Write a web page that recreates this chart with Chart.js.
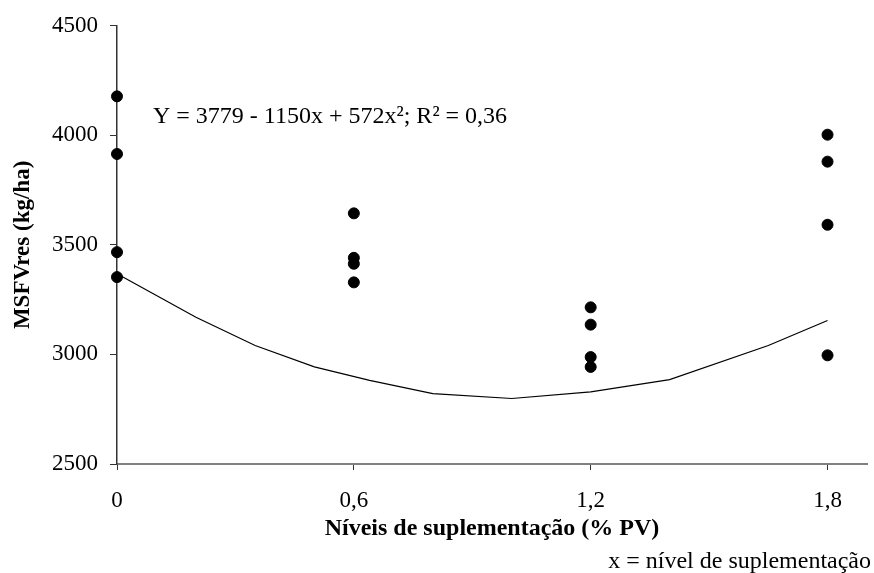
<!DOCTYPE html>
<html>
<head>
<meta charset="utf-8">
<script src="https://cdn.jsdelivr.net/npm/chart.js@4"></script>
<style>
  html, body { margin: 0; padding: 0; background: #fff; }
  #wrap { width: 874px; height: 573px; }
</style>
</head>
<body>
<div id="wrap"><canvas id="msfvChart" width="874" height="573"></canvas></div>
<script>
// supplementation levels (% PV) and tick labels
const levels = [0, 0.6, 1.2, 1.8];
const xTicks = [0, 0.6, 1.2, 1.8];
const yTicks = [2500, 3000, 3500, 4000, 4500];

// observed MSFVres (kg/ha) at each level
const obsLevel0 = [4178, 3915, 3467, 3353];
const obsLevel06 = [3644, 3441, 3414, 3329];
const obsLevel12 = [3215, 3136, 2988, 2943];
const obsLevel18 = [4003, 3880, 3592, 2996];

// fitted curve as drawn
const curveX = [0, 0.2, 0.35, 0.5, 0.64, 0.8, 1.0, 1.2, 1.4, 1.65, 1.8];
const curveY = [3368, 3170, 3041, 2943, 2882, 2821, 2799, 2829, 2885, 3041, 3155];

const equationText = "Y = 3779 - 1150x + 572x²; R² = 0,36";
const footnoteText = "x = nível de suplementação";

const FONT = "'Liberation Serif', 'Times New Roman', serif";

document.addEventListener("DOMContentLoaded", function () {
  const ctx = document.getElementById("msfvChart").getContext("2d");

  const obsGroups = [obsLevel0, obsLevel06, obsLevel12, obsLevel18];
  const points = [];
  obsGroups.forEach(function (group, i) {
    for (const v of group) {
      points.push({ x: levels[i], y: v });
    }
  });

  const curve = curveX.map(function (x, i) {
    return { x: x, y: curveY[i] };
  });

  // equation and footnote text
  const textPlugin = {
    id: "notes",
    afterDraw(chart) {
      const c = chart.ctx;
      c.save();
      c.fillStyle = "#000";
      c.font = "24px " + FONT;
      c.textBaseline = "alphabetic";
      c.textAlign = "left";
      c.fillText(equationText, 153, 123);
      c.textAlign = "right";
      c.fillText(footnoteText, 871, 568);
      c.restore();
    },
  };

  new Chart(ctx, {
    type: "scatter",
    data: {
      datasets: [
        {
          label: "observado",
          data: points,
          backgroundColor: "#000",
          borderColor: "#000",
          pointRadius: 5.5,
          pointHoverRadius: 5.5,
          clip: false,
        },
        {
          label: "ajuste",
          data: curve,
          showLine: true,
          borderColor: "#000",
          borderWidth: 1.2,
          pointRadius: 0,
          tension: 0,
          fill: false,
          clip: false,
        },
      ],
    },
    options: {
      responsive: false,
      animation: false,
      events: [],
      layout: {
        padding: { left: 0, right: 7, top: 25, bottom: 0 },
      },
      plugins: {
        legend: { display: false },
        tooltip: { enabled: false },
      },
      scales: {
        x: {
          type: "linear",
          min: 0,
          max: 1.9,
          afterBuildTicks: function (scale) {
            scale.ticks = xTicks.map(function (v) { return { value: v }; });
          },
          afterFit: function (scale) {
            scale.height = 109;
          },
          ticks: {
            color: "#000",
            font: { family: FONT, size: 23 },
            padding: 17,
            maxRotation: 0,
            callback: function (v) { return String(v).replace(".", ","); },
          },
          grid: {
            drawOnChartArea: false,
            drawTicks: true,
            tickLength: 6,
            color: "#333",
          },
          border: { color: "#808080", width: 2 },
          title: {
            display: true,
            text: "Níveis de suplementação (% PV)",
            color: "#000",
            font: { family: FONT, size: 24, weight: "bold" },
            padding: { top: 0, bottom: 30 },
          },
        },
        y: {
          min: 2500,
          max: 4500,
          afterBuildTicks: function (scale) {
            scale.ticks = yTicks.map(function (v) { return { value: v }; });
          },
          afterFit: function (scale) {
            scale.width = 117;
          },
          ticks: {
            color: "#000",
            font: { family: FONT, size: 23 },
            padding: 12,
            callback: function (v) { return String(v); },
          },
          grid: {
            drawOnChartArea: false,
            drawTicks: true,
            tickLength: 7,
            color: "#333",
          },
          border: { color: "#333", width: 1.5 },
          title: {
            display: true,
            text: "MSFVres (kg/ha)",
            color: "#000",
            font: { family: FONT, size: 23, weight: "bold" },
            padding: { top: 9, bottom: 0 },
          },
        },
      },
    },
    plugins: [textPlugin],
  });
});
</script>
</body>
</html>
